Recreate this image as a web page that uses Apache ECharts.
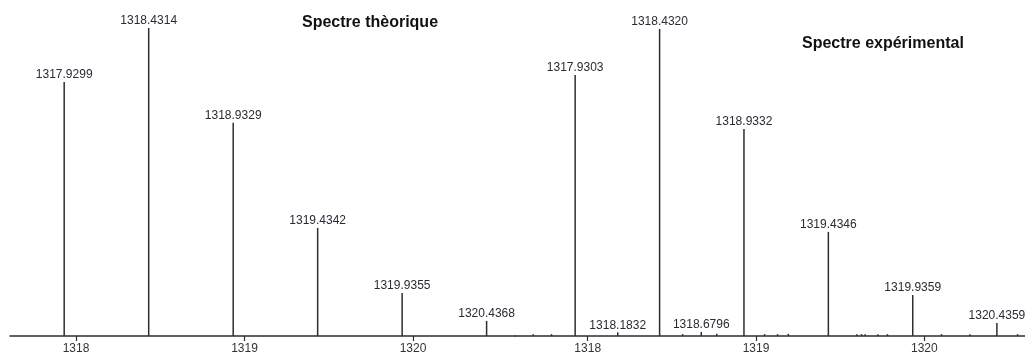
<!DOCTYPE html>
<html>
<head>
<meta charset="utf-8">
<script src="https://cdn.jsdelivr.net/npm/echarts@6/dist/echarts.min.js"></script>
<style>html,body{margin:0;padding:0;background:#fff}#c{width:1025px;height:356px}</style>
</head>
<body>
<div id="c"></div>
<script>
// Theoretical spectrum (left)
var theoMz = [1317.9299, 1318.4314, 1318.9329, 1319.4342, 1319.9355, 1320.4368];
var theoInt = [82.5, 100, 69.2, 35.1, 14.0, 4.9];
var theoLabels = ['1317.9299', '1318.4314', '1318.9329', '1319.4342', '1319.9355', '1320.4368'];
// Experimental spectrum (right), labelled peaks
var expMz = [1317.9303, 1318.1832, 1318.4320, 1318.6796, 1318.9332, 1319.4346, 1319.9359, 1320.4359];
var expInt = [84.7, 1.2, 99.7, 1.3, 67.2, 33.8, 13.3, 4.2];
var expLabels = ['1317.9303', '1318.1832', '1318.4320', '1318.6796', '1318.9332', '1319.4346', '1319.9359', '1320.4359'];
// Experimental noise peaks (unlabelled)
var noiseMz = [1317.671, 1317.780, 1318.559, 1318.762, 1319.046, 1319.123, 1319.187, 1319.594, 1319.622, 1319.643, 1319.719, 1319.776, 1320.097, 1320.266, 1320.549];
var noiseInt = [0.6, 0.6, 0.6, 0.7, 0.6, 0.6, 0.7, 0.6, 0.6, 0.6, 0.6, 0.6, 0.6, 0.6, 0.6];
// Axis ticks
var tickValues = [1318, 1319, 1320];
var tickLabels = ['1318', '1319', '1320'];
var titles = ['Spectre thèorique', 'Spectre expérimental'];

var ink = '#2e2e2e';
function pairs(xs, ys) { return xs.map(function (x, i) { return [x, ys[i]]; }); }

function xAxisFor(idx, min, max) {
  return {
    type: 'value', gridIndex: idx, min: min, max: max,
    axisLine: { show: true, lineStyle: { color: ink, width: 1.5 } },
    axisTick: { show: true, customValues: tickValues, length: 5, lineStyle: { color: ink, width: 1.2 } },
    axisLabel: {
      show: true, customValues: tickValues, color: '#333', fontSize: 12, fontFamily: 'Liberation Sans', margin: 7,
      formatter: function (v) { var i = tickValues.indexOf(Math.round(v)); return i >= 0 ? tickLabels[i] : String(v); }
    },
    splitLine: { show: false }
  };
}
function yAxisFor(idx) {
  return { type: 'value', gridIndex: idx, min: 0, max: 100, show: false, splitLine: { show: false } };
}
function barSeries(idx, data, labels) {
  return {
    type: 'bar', xAxisIndex: idx, yAxisIndex: idx, data: data, barWidth: 1.5,
    itemStyle: { color: ink }, animation: false, silent: true,
    label: labels ? {
      show: true, position: 'top', distance: 1, color: '#2a2a35', fontSize: 12,
      fontFamily: 'Liberation Sans',
      formatter: function (p) { return labels[p.dataIndex]; }
    } : { show: false }
  };
}

var chart = echarts.init(document.getElementById('c'), null, { renderer: 'canvas' });
chart.setOption({
  backgroundColor: '#fff',
  animation: false,
  grid: [
    { left: 10, width: 505, top: 28, height: 308 },
    { left: 515, right: 0, top: 28, height: 308 }
  ],
  xAxis: [xAxisFor(0, 1317.6083, 1320.6053), xAxisFor(1, 1317.568, 1320.598)],
  yAxis: [yAxisFor(0), yAxisFor(1)],
  series: [
    barSeries(0, pairs(theoMz, theoInt), theoLabels),
    barSeries(1, pairs(expMz, expInt), expLabels),
    barSeries(1, pairs(noiseMz, noiseInt), null)
  ],
  graphic: [
    { type: 'text', left: 302, top: 15, style: { text: titles[0], fill: '#111', font: 'bold 16px "Liberation Sans"' } },
    { type: 'text', left: 802, top: 36, style: { text: titles[1], fill: '#111', font: 'bold 16px "Liberation Sans"' } }
  ]
});
</script>
</body>
</html>
